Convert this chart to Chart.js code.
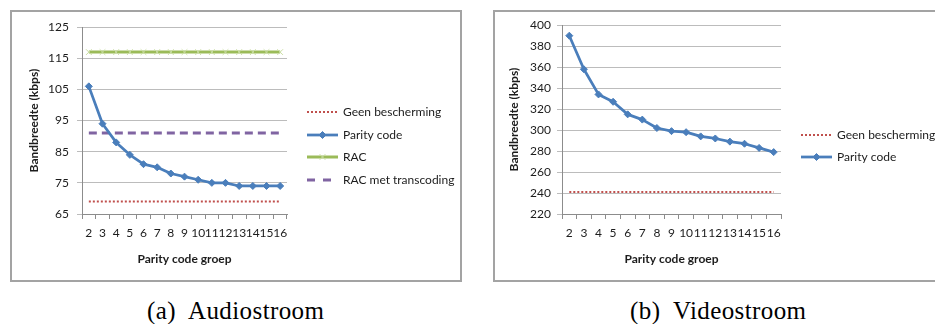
<!DOCTYPE html>
<html>
<head>
<meta charset="utf-8">
<script src="https://cdn.jsdelivr.net/npm/chart.js@4/dist/chart.umd.min.js"></script>
<style>
  html, body { margin: 0; padding: 0; background: #fff; }
  body { position: relative; width: 935px; height: 324px; overflow: hidden; }
  .panel { position: absolute; box-sizing: border-box; border: 2px solid #a3a3a3; background: #fff; }
  .panel canvas { position: absolute; left: 0; top: 0; }
  .caption { position: absolute; top: 298px; font-family: "Liberation Serif", serif; font-size: 25px; line-height: 25px; letter-spacing: 0.4px; color: #000; white-space: nowrap; }
  .caption .tag { display: inline-block; }
</style>
</head>
<body>
<div class="panel" style="left:10px; top:10px; width:452px; height:272px;">
  <canvas id="audio" width="448" height="268"></canvas>
</div>
<div class="panel" style="left:493px; top:10px; width:452px; height:272px;">
  <canvas id="video" width="440" height="268"></canvas>
</div>
<div class="caption" style="left:147px;"><span class="tag" style="width:41px;">(a)</span>Audiostroom</div>
<div class="caption" style="left:630px;"><span class="tag" style="width:43px;">(b)</span>Videostroom</div>

<script>
// Parity code group sizes on the horizontal axis
const groups = ['2', '3', '4', '5', '6', '7', '8', '9', '10', '11', '12', '13', '14', '15', '16'];

// Audio stream bandwidth (kbps)
const audioNoProtection  = [69, 69, 69, 69, 69, 69, 69, 69, 69, 69, 69, 69, 69, 69, 69];
const audioParity        = [106, 94, 88, 84, 81, 80, 78, 77, 76, 75, 75, 74, 74, 74, 74];
const audioRac           = [117, 117, 117, 117, 117, 117, 117, 117, 117, 117, 117, 117, 117, 117, 117];
const audioRacTranscode  = [91, 91, 91, 91, 91, 91, 91, 91, 91, 91, 91, 91, 91, 91, 91];
const audioTicks = [65, 75, 85, 95, 105, 115, 125];

// Video stream bandwidth (kbps)
const videoNoProtection  = [241, 241, 241, 241, 241, 241, 241, 241, 241, 241, 241, 241, 241, 241, 241];
const videoParity        = [390, 358, 334, 327, 315, 310, 302, 299, 298, 294, 292, 289, 287, 283, 279];
const videoTicks = [220, 240, 260, 280, 300, 320, 340, 360, 380, 400];

const FONT = 'Lato, "Liberation Sans", sans-serif';
const TEXT = '#1c1c1c';
Chart.defaults.font.family = FONT;
Chart.defaults.font.size = 12;
Chart.defaults.color = TEXT;

// Series styles
const styleNoProtection = {
  label: 'Geen bescherming', borderColor: '#C0504D', borderWidth: 2,
  borderDash: [2, 2], pointRadius: 0, legendDash: [2, 2]
};
const styleParity = {
  label: 'Parity code', borderColor: '#4A7EBB', borderWidth: 2.75,
  pointStyle: 'rectRot', pointRadius: 3.5, pointBackgroundColor: '#4A7EBB',
  pointBorderColor: '#4A7EBB', pointBorderWidth: 1
};
const styleRac = {
  label: 'RAC', borderColor: '#9BBB59', borderWidth: 3,
  pointStyle: 'crossRot', pointRadius: 4, pointBackgroundColor: '#C9DDA3',
  pointBorderColor: '#C9DDA3', pointBorderWidth: 1
};
const styleRacTranscode = {
  label: 'RAC met transcoding', borderColor: '#8064A2', borderWidth: 3,
  borderDash: [8, 5], pointRadius: 0, legendDash: [8, 8]
};

// Legend drawn to the right of the plot, vertically centred in the chart box
const sideLegend = {
  id: 'sideLegend',
  afterDraw(chart, args, opts) {
    const { ctx, chartArea } = chart;
    const sets = chart.data.datasets;
    const x0 = chartArea.right + opts.gap;
    const len = opts.lineLength;
    const startY = chart.height / 2 - (sets.length - 1) * opts.rowGap / 2;
    ctx.save();
    sets.forEach((ds, i) => {
      const y = Math.round(startY + i * opts.rowGap);
      ctx.beginPath();
      ctx.setLineDash(ds.legendDash || []);
      ctx.strokeStyle = ds.borderColor;
      ctx.lineWidth = ds.borderWidth;
      ctx.lineCap = 'butt';
      ctx.moveTo(x0, y);
      ctx.lineTo(x0 + len, y);
      ctx.stroke();
      ctx.setLineDash([]);
      if (ds.pointRadius > 0) {
        ctx.fillStyle = ds.pointBackgroundColor;
        ctx.strokeStyle = ds.pointBorderColor;
        ctx.lineWidth = ds.pointBorderWidth;
        Chart.helpers.drawPoint(ctx, {
          pointStyle: ds.pointStyle, radius: ds.pointRadius,
          rotation: 0, borderWidth: ds.pointBorderWidth
        }, x0 + len / 2, y);
      }
      ctx.fillStyle = TEXT;
      ctx.font = '12px ' + FONT;
      ctx.textBaseline = 'middle';
      ctx.textAlign = 'left';
      ctx.fillText(ds.label, x0 + len + opts.textGap, y);
    });
    ctx.restore();
  }
};

function makeChart(id, series, ticks, cfg) {
  const datasets = series.map(([style, data]) => Object.assign({
    data, fill: false, tension: 0, borderJoinStyle: 'round'
  }, style));
  return new Chart(document.getElementById(id), {
    type: 'line',
    data: { labels: groups, datasets },
    plugins: [sideLegend],
    options: {
      responsive: false,
      animation: false,
      events: [],
      layout: { padding: { top: 12, right: cfg.padRight, bottom: 0, left: 0 } },
      plugins: {
        legend: { display: false },
        tooltip: { enabled: false },
        sideLegend: { gap: 20, lineLength: 31, textGap: 5, rowGap: 22.7 }
      },
      scales: {
        x: {
          type: 'category',
          offset: true,
          grid: { display: true, offset: true, drawOnChartArea: false, drawTicks: true,
                  tickLength: 5, color: '#8c8c8c' },
          border: { display: true, color: '#8c8c8c', width: 1 },
          ticks: { autoSkip: false, maxRotation: 0, minRotation: 0, padding: 7,
                   color: TEXT, font: { size: 12 } },
          title: { display: true, text: 'Parity code groep', color: TEXT,
                   font: { size: 12, weight: 'bold' }, padding: { top: 0, bottom: 13.8 } },
          afterFit(scale) { scale.height = 66; }
        },
        y: {
          min: ticks[0],
          max: ticks[ticks.length - 1],
          afterBuildTicks(scale) { scale.ticks = ticks.map(v => ({ value: v })); },
          grid: { color: '#bcbcbc', drawTicks: true, tickLength: 5 },
          border: { display: true, color: '#8c8c8c', width: 1 },
          ticks: { padding: cfg.tickPad, color: TEXT, font: { size: 12 } },
          title: { display: true, text: 'Bandbreedte (kbps)', color: TEXT,
                   font: { size: 12, weight: 'bold' }, padding: { top: cfg.titleX - 7.2, bottom: 0 } },
          afterFit(scale) { scale.width = cfg.axisLeft; }
        }
      }
    }
  });
}

makeChart('audio', [
  [styleNoProtection, audioNoProtection],
  [styleParity, audioParity],
  [styleRac, audioRac],
  [styleRacTranscode, audioRacTranscode]
], audioTicks, { padRight: 173, axisLeft: 70, tickPad: 8, titleX: 22 });

makeChart('video', [
  [styleNoProtection, videoNoProtection],
  [styleParity, videoParity]
], videoTicks, { padRight: 154, axisLeft: 67, tickPad: 6, titleX: 19 });
</script>
</body>
</html>
